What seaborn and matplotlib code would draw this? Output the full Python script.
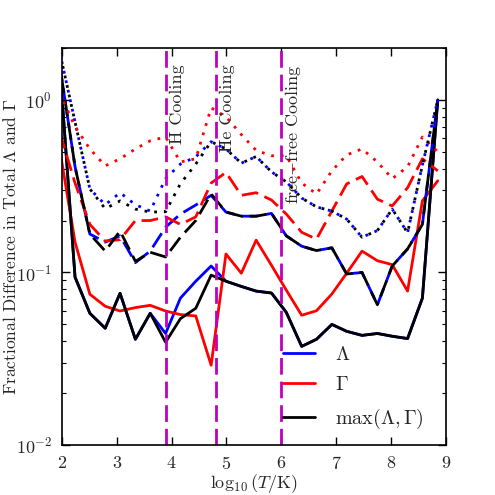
import matplotlib
matplotlib.use("Agg")
import matplotlib.pyplot as plt
import seaborn as sns
import numpy as np

# ---- data ----
logT = [1.96, 2.24, 2.51, 2.79, 3.06, 3.34, 3.61, 3.89, 4.16, 4.44, 4.72, 4.99, 5.27,
        5.54, 5.82, 6.09, 6.37, 6.64, 6.92, 7.19, 7.47, 7.75, 8.02, 8.30, 8.57, 8.85]

# solid group
lam_solid = [1.6, 0.094, 0.058, 0.0475, 0.0758, 0.041, 0.058, 0.0443, 0.071, 0.089, 0.109, 0.089, 0.083,
             0.078, 0.076, 0.0587, 0.0373, 0.041, 0.050, 0.0456, 0.0432, 0.0443, 0.0427, 0.0414, 0.071, 1.0]
gam_solid = [0.52, 0.150, 0.0748, 0.0637, 0.0598, 0.0626, 0.0645, 0.0598, 0.057, 0.056, 0.029, 0.128, 0.099,
             0.154, 0.110, 0.079, 0.0565, 0.060, 0.075, 0.099, 0.133, 0.117, 0.111, 0.078, 0.26, 0.34]
max_solid = [1.6, 0.094, 0.058, 0.0475, 0.0758, 0.041, 0.058, 0.0394, 0.054, 0.062, 0.0965, 0.089, 0.083,
             0.078, 0.076, 0.0587, 0.0373, 0.041, 0.050, 0.0456, 0.0432, 0.0443, 0.0427, 0.0414, 0.071, 1.0]

# dashed group
lam_dash = [1.6, 0.41, 0.167, 0.15, 0.163, 0.114, 0.133, 0.183, 0.218, 0.246, 0.28, 0.224, 0.212,
            0.212, 0.22, 0.163, 0.142, 0.134, 0.139, 0.098, 0.100, 0.065, 0.109, 0.137, 0.19, 1.0]
gam_dash = [0.65, 0.33, 0.19, 0.152, 0.155, 0.20, 0.20, 0.21, 0.19, 0.21, 0.33, 0.38, 0.28,
            0.29, 0.263, 0.218, 0.171, 0.156, 0.227, 0.326, 0.36, 0.266, 0.243, 0.31, 0.456, 0.388]
max_dash = [1.6, 0.41, 0.167, 0.133, 0.174, 0.116, 0.131, 0.123, 0.16, 0.2, 0.285, 0.224, 0.212,
            0.212, 0.22, 0.163, 0.142, 0.134, 0.139, 0.098, 0.100, 0.065, 0.109, 0.137, 0.19, 1.0]

# dotted group
lam_dot = [1.9, 0.745, 0.305, 0.247, 0.29, 0.247, 0.227, 0.35, 0.425, 0.468, 0.573, 0.52, 0.43,
           0.47, 0.383, 0.335, 0.27, 0.24, 0.227, 0.204, 0.16, 0.175, 0.233, 0.17, 0.42, 1.0]
gam_dot = [1.1, 0.70, 0.52, 0.415, 0.456, 0.52, 0.58, 0.61, 0.437, 0.456, 0.9, 0.8, 0.63,
           0.51, 0.475, 0.475, 0.33, 0.285, 0.388, 0.48, 0.52, 0.437, 0.35, 0.41, 0.61, 0.5]
max_dot = [1.9, 0.745, 0.305, 0.234, 0.26, 0.233, 0.224, 0.225, 0.327, 0.425, 0.573, 0.52, 0.43,
           0.47, 0.383, 0.335, 0.27, 0.24, 0.227, 0.204, 0.16, 0.175, 0.233, 0.17, 0.42, 1.0]

cool_x = [3.9, 4.8, 6.0]
cool_labels = ["H Cooling", "He Cooling", r"free$-$free Cooling"]
legend_labels = [r"$\Lambda$", r"$\Gamma$", r"$\max(\Lambda,\Gamma)$"]

# ---- style ----
sns.set_style("ticks")
plt.rcParams.update({
    "font.family": ["serif"],
    "font.serif": ["cmr10", "DejaVu Serif"],
    "mathtext.fontset": "cm",
    "axes.formatter.use_mathtext": True,
    "axes.unicode_minus": False,
    "font.size": 13,
    "axes.linewidth": 1.2,
    "axes.edgecolor": "black",
})

fig = plt.figure(figsize=(4.95, 4.95), dpi=100)
ax = fig.add_axes([0.125, 0.101, 0.776, 0.802])

dash_a = (0, (6, 2.5))
dash_b = (4.25, (6, 2.5))
dot_a = (0, (1, 2.5))
dot_b = (1.75, (1, 2.5))

lw = 2.0
# solid
sns.lineplot(x=logT, y=lam_solid, ax=ax, color="blue", lw=lw, label=legend_labels[0])
sns.lineplot(x=logT, y=gam_solid, ax=ax, color="red", lw=lw, label=legend_labels[1])
sns.lineplot(x=logT, y=max_solid, ax=ax, color="black", lw=lw, label=legend_labels[2])
# dashed
sns.lineplot(x=logT, y=lam_dash, ax=ax, color="blue", lw=lw, linestyle=dash_a)
sns.lineplot(x=logT, y=gam_dash, ax=ax, color="red", lw=lw, linestyle=dash_a)
sns.lineplot(x=logT, y=max_dash, ax=ax, color="black", lw=lw, linestyle=dash_b)
# dotted
sns.lineplot(x=logT, y=lam_dot, ax=ax, color="blue", lw=lw, linestyle=dot_a)
sns.lineplot(x=logT, y=gam_dot, ax=ax, color="red", lw=lw, linestyle=dot_a)
sns.lineplot(x=logT, y=max_dot, ax=ax, color="black", lw=lw, linestyle=dot_b)

mag = (0.75, 0, 0.75)
for xv, lab in zip(cool_x, cool_labels):
    ax.axvline(xv, color=mag, lw=2, linestyle=(0, (6, 2.5)))
    ax.text(xv + 0.21, 1.6, lab, rotation=90, ha="center", va="top", fontsize=13)

ax.set_yscale("log")
ax.set_xlim(2, 9)
ax.set_ylim(0.01, 2.0)
ax.set_xticks([2, 3, 4, 5, 6, 7, 8, 9])
ax.set_xlabel(r"$\log_{10}(T/{\rm K})$", fontsize=13, va="center")
ax.set_ylabel(r"Fractional Difference in Total $\Lambda$ and $\Gamma$", fontsize=12.5, va="center")
ax.xaxis.set_label_coords(0.5, -0.097)
ax.yaxis.set_label_coords(-0.135, 0.5)

ax.tick_params(which="both", direction="in", top=True, right=True, color="black")
ax.tick_params(which="major", length=5.5, width=1, pad=7)
ax.tick_params(which="minor", length=2.8, width=0.8)
for s in ax.spines.values():
    s.set_visible(True)
    s.set_color("black")

h, l = ax.get_legend_handles_labels()
ax.legend(h[:3], l[:3], loc="lower left", bbox_to_anchor=(0.575, 0.035), frameon=False,
          handlelength=1.6, handletextpad=1.0, labelspacing=0.62, borderpad=0, borderaxespad=0,
          fontsize=14.5)

fig.savefig("out.png", dpi=100)
